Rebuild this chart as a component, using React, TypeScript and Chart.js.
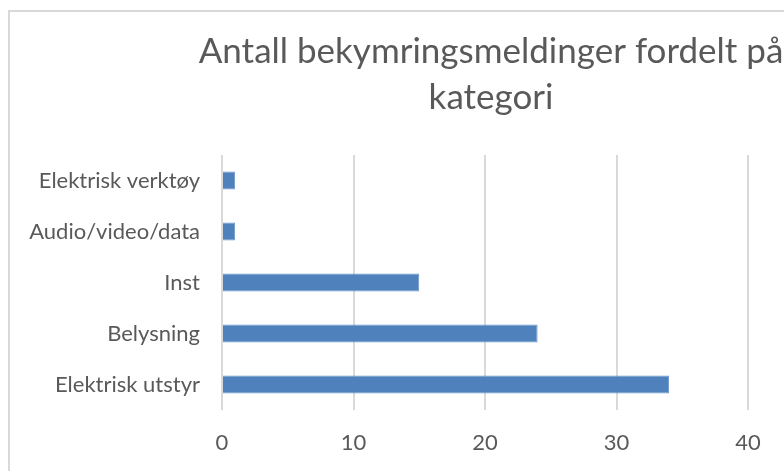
import React, { useEffect, useRef } from "react";
import { Chart, registerables } from "chart.js";

Chart.register(...registerables);

const titleLines = ["Antall bekymringsmeldinger fordelt på", "kategori"];
const categories = ["Elektrisk verktøy", "Audio/video/data", "Inst", "Belysning", "Elektrisk utstyr"];
const values = [1, 1, 15, 24, 34];
const xTicks = { min: 0, max: 40, step: 10 };

const FONT = "Lato, 'Open Sans', sans-serif";
const TEXT = "#595959";
const GRID = "#d9d9d9";

export default function App() {
  const ref = useRef<HTMLCanvasElement | null>(null);

  useEffect(() => {
    if (!ref.current) return;
    const chart = new Chart(ref.current, {
      type: "bar",
      data: {
        labels: categories,
        datasets: [
          {
            label: "Antall",
            data: values,
            backgroundColor: "#4f81bd",
            borderColor: "#6d96cc",
            borderWidth: 1,
            categoryPercentage: 1,
            barPercentage: 0.353,
          },
        ],
      },
      options: {
        indexAxis: "y",
        animation: false,
        responsive: false,
        maintainAspectRatio: false,
        layout: { padding: 0 },
        plugins: {
          legend: { display: false },
          tooltip: { enabled: false },
          title: {
            display: true,
            text: titleLines,
            color: TEXT,
            font: { family: FONT, size: 35, weight: "normal", lineHeight: 1.314 },
            padding: { top: 17, bottom: 34 },
          },
        },
        scales: {
          x: {
            min: xTicks.min,
            max: xTicks.max,
            ticks: {
              stepSize: xTicks.step,
              color: TEXT,
              font: { family: FONT, size: 22 },
              padding: 20,
            },
            grid: { color: GRID, lineWidth: 2, drawTicks: false },
            border: { display: false },
            afterFit: (s: any) => {
              s.height = 82;
            },
          },
          y: {
            ticks: {
              color: TEXT,
              font: { family: FONT, size: 22 },
              padding: 22,
            },
            grid: { display: false, drawTicks: false },
            border: { display: false },
            afterFit: (s: any) => {
              s.width = 212;
            },
          },
          yRight: {
            type: "linear",
            axis: "y",
            position: "right",
            display: true,
            ticks: { display: false },
            grid: { display: false, drawTicks: false },
            border: { display: false },
            afterFit: (s: any) => {
              s.width = 224;
            },
          },
        },
      },
    });
    return () => chart.destroy();
  }, []);

  return (
    <div
      style={{
        position: "fixed",
        left: 8,
        top: 8,
        right: 0,
        bottom: 0,
        overflow: "hidden",
      }}
    >
      <div
        style={{
          marginTop: 2,
          width: 962,
          height: 480,
          border: "2px solid #d9d9d9",
          background: "#fff",
        }}
      >
        <canvas ref={ref} width={962} height={480} style={{ display: "block" }} />
      </div>
    </div>
  );
}
